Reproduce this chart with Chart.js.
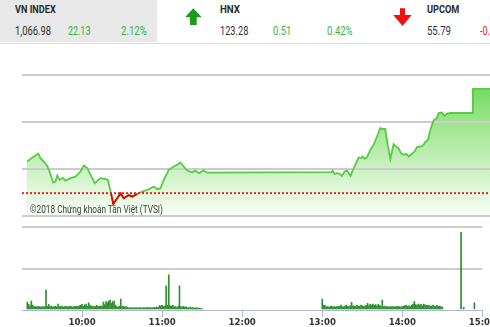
<!DOCTYPE html>
<html>
<head>
<meta charset="utf-8">
<script src="https://cdn.jsdelivr.net/npm/chart.js@4.4.0/dist/chart.umd.min.js"></script>
<style>
html, body { margin: 0; padding: 0; background: #fff; }
#wrap { position: relative; width: 490px; height: 327px; overflow: hidden; font-family: Roboto, "Liberation Sans", sans-serif; }
.t { position: absolute; white-space: nowrap; line-height: 1; transform-origin: 0 0; color: #333; }
.lbl { font-size: 10.5px; font-weight: bold; top: 5.3px; color: #2a2a2a; }
.num { font-size: 12.5px; top: 25.1px; }
.up { color: #36b347; }
.dn { color: #e8202a; }
#grayBox { position: absolute; left: 0; top: 0; width: 157px; height: 42px; background: #e8e8e8; }
#rule { position: absolute; left: 0; top: 42.5px; width: 490px; height: 1.5px; background: #dcdcdc; }
#areaSvg { position: absolute; left: 0; top: 45px; }
#priceChart { position: absolute; left: 0; top: 45px; }
#volChart { position: absolute; left: 0; top: 220px; }
#copy { font-size: 11px; top: 203.7px; left: 30px; color: #3c3c3c; }
</style>
</head>
<body>
<div id="wrap">
  <div id="grayBox"></div>
  <div id="rule"></div>
  <svg width="490" height="42" style="position:absolute;left:0;top:0">
    <polygon points="185,17.3 193.3,8.3 201.7,17.3 196.7,17.3 196.7,25 190,25 190,17.3" fill="#1b9a1b"/>
    <polygon points="400,8.3 405,8.3 405,15 411.7,15 402.5,26 393.3,15 400,15" fill="#ee1111"/>
  </svg>
  <div class="t lbl" style="left:15px" data-w="40.7">VN INDEX</div>
  <div class="t num" style="left:15px" data-w="36">1,066.98</div>
  <div class="t num up" style="left:68.3px" data-w="22.4">22.13</div>
  <div class="t num up" style="left:121px" data-w="25.7">2.12%</div>
  <div class="t lbl" style="left:220px" data-w="20">HNX</div>
  <div class="t num" style="left:220px" data-w="28.3">123.28</div>
  <div class="t num up" style="left:273.3px" data-w="18.3">0.51</div>
  <div class="t num up" style="left:326.7px" data-w="25.6">0.42%</div>
  <div class="t lbl" style="left:426.7px" data-w="32.3">UPCOM</div>
  <div class="t num" style="left:426.7px" data-w="24">55.79</div>
  <div class="t num dn" style="left:480px" data-w="10">-0.</div>
  <svg id="areaSvg" width="496" height="175">
    <defs>
      <linearGradient id="areaGrad" gradientUnits="userSpaceOnUse" x1="0" y1="6" x2="0" y2="171">
        <stop offset="0" stop-color="rgb(78,206,62)"/>
        <stop offset="0.5" stop-color="rgb(168,232,152)"/>
        <stop offset="1" stop-color="rgb(250,254,249)"/>
      </linearGradient>
    </defs>
    <polygon id="areaBase" fill="rgb(185,237,172)"/>
    <polygon id="areaTop" fill="url(#areaGrad)"/>
  </svg>
  <canvas id="priceChart" width="496" height="175"></canvas>
  <canvas id="volChart" width="496" height="107"></canvas>
  <div class="t" id="copy" data-w="133">©2018 Chứng khoán Tân Việt (TVSI)</div>
</div>
<script>
// previous close of VN-Index
var REF = 1044.85;

// index line, minutes since midnight
var lineMinutes = [558.8, 562.9, 564.4, 566.8, 568.5, 570.9, 573.4, 575.1, 577.7, 579.4,
  580.7, 582.5, 584.7, 586.7, 590.3, 593.9, 597.6, 600.0, 602.5, 604.9,
  608.0, 612.1, 615.8, 617.5, 619.9, 621.4, 624.3, 626.7, 629.1, 632.7,
  635.2, 638.8, 642.5, 647.3, 650.9, 653.4, 655.8, 658.2, 660.7, 661.8,
  665.5, 667.9, 670.3, 672.7, 675.2, 678.8, 681.2, 683.6, 687.3, 689.7,
  780.2, 781.1, 782.5, 784.3, 786.2, 787.9, 789.8, 791.6, 792.7, 794.2,
  795.6, 797.6, 800.0, 802.0, 802.9, 804.4, 806.1, 808.5, 810.9, 813.4,
  815.8, 817.5, 819.4, 821.4, 823.1, 824.3, 825.5, 827.2, 829.1, 830.8,
  832.7, 834.7, 836.4, 838.8, 840.7, 842.5, 844.9, 846.6, 848.5, 850.5,
  852.2, 854.6, 857.0, 858.2, 860.7, 862.4, 864.3, 866.7, 870.0, 882.6,
  883.2, 896.0];
var lineValues = [1051.55, 1052.49, 1052.77, 1053.26, 1052.28, 1051.55, 1050.64, 1049.43, 1047.09, 1047.30,
  1048.57, 1047.66, 1048.09, 1047.51, 1048.02, 1048.36, 1049.43, 1050.70, 1050.15, 1048.72,
  1046.96, 1048.02, 1047.81, 1047.66, 1044.70, 1042.55, 1043.77, 1044.80, 1043.77, 1044.47,
  1044.11, 1044.68, 1045.17, 1045.68, 1046.23, 1045.68, 1045.89, 1047.66, 1049.09, 1049.79,
  1050.49, 1050.85, 1051.34, 1050.49, 1049.64, 1049.30, 1049.64, 1049.09, 1049.64, 1049.21,
  1049.30, 1049.64, 1048.94, 1049.09, 1048.94, 1048.51, 1049.43, 1049.64, 1049.09, 1048.51,
  1049.64, 1050.85, 1052.40, 1052.28, 1052.62, 1052.13, 1052.49, 1054.04, 1055.11, 1056.87,
  1058.66, 1058.45, 1058.45, 1054.74, 1052.06, 1053.68, 1055.26, 1054.74, 1054.40, 1053.34,
  1052.98, 1053.19, 1052.62, 1053.19, 1053.68, 1054.62, 1054.74, 1054.89, 1055.68, 1056.17,
  1058.30, 1060.28, 1060.79, 1061.85, 1061.98, 1061.28, 1061.70, 1061.85, 1061.85, 1061.85,
  1066.98, 1066.98];

// volume per minute (thousand shares)
var volMorningStart = 559;
var volMorning = [190, 135, 95, 215, 120, 85, 80, 75, 90, 80,
  70, 85, 75, 80, 480, 90, 135, 80, 95, 70,
  85, 90, 75, 145, 80, 85, 95, 70, 80, 90,
  75, 85, 95, 80, 70, 90, 85, 95, 80, 100,
  110, 135, 95, 125, 140, 90, 170, 120, 95, 85,
  90, 80, 105, 95, 85, 100, 90, 190, 130, 200,
  170, 215, 240, 160, 205, 215, 120, 85, 70, 90,
  265, 80, 95, 70, 80, 65, 55, 60, 50, 55,
  45, 60, 55, 50, 60, 55, 45, 60, 55, 50,
  65, 55, 60, 50, 55, 65, 60, 70, 60, 105,
  95, 110, 85, 100, 580, 120, 845, 105, 95, 110,
  75, 80, 60, 95, 580, 80, 70, 90, 65, 75,
  60, 55, 70, 50, 60, 45, 55, 50, 45, 40,
  35, 30];
var volAfternoonStart = 780;
var volAfternoon = [265, 120, 110, 75, 85, 70, 80, 95, 75, 80,
  70, 85, 90, 80, 120, 85, 75, 95, 120, 90,
  80, 100, 185, 95, 100, 85, 110, 90, 95, 120,
  100, 85, 95, 110, 160, 105, 135, 120, 145, 110,
  130, 95, 135, 115, 90, 240, 85, 95, 75, 80,
  70, 85, 75, 80, 70, 85, 90, 75, 80, 70,
  85, 95, 105, 110, 90, 100, 85, 120, 140, 200,
  130, 110, 145, 120, 135, 100, 140, 125, 110, 105,
  115, 90, 100, 120, 95, 85, 110, 95, 90, 80,
  70];
var volAtcMinutes = [884, 886, 894];
var volAtc = [1870, 65, 175];

var hourTicks = [600, 660, 720, 780, 840, 900];
var priceGrid = [1040, 1050, 1060, 1070];
var volGrid = [0, 1000, 2000];

var X_MIN = 555, X_MAX = 900;

function fitTexts() {
    var els = document.querySelectorAll('[data-w]');
    for (var i = 0; i < els.length; i++) {
        var w = els[i].getBoundingClientRect().width;
        els[i].style.transform = 'scaleX(' + (parseFloat(els[i].dataset.w) / w) + ')';
    }
}

// green area under the index line, placed with the chart's own scales,
// sitting behind the (transparent) chart canvas
function drawArea(chart) {
    var sx = chart.scales.x, sy = chart.scales.y, area = chart.chartArea;
    var grad = document.getElementById('areaGrad');
    grad.setAttribute('y1', area.top);
    grad.setAttribute('y2', area.bottom);
    var pts = [];
    var x0 = sx.getPixelForValue(lineMinutes[0]);
    var xN = Math.min(sx.getPixelForValue(lineMinutes[lineMinutes.length - 1]), area.right);
    pts.push(x0 + ',' + area.bottom);
    for (var i = 0; i < lineMinutes.length; i++) {
        pts.push(sx.getPixelForValue(lineMinutes[i]) + ',' + sy.getPixelForValue(lineValues[i]));
    }
    pts.push(xN + ',' + area.bottom);
    var s = pts.join(' ');
    document.getElementById('areaBase').setAttribute('points', s);
    document.getElementById('areaTop').setAttribute('points', s);
}

function makeCharts() {
    var linePoints = [];
    var belowPoints = [];   // only the stretch under the previous close, drawn red
    for (var i = 0; i < lineMinutes.length; i++) {
        linePoints.push({x: lineMinutes[i], y: lineValues[i]});
        belowPoints.push({x: lineMinutes[i], y: lineValues[i] <= REF ? lineValues[i] : null});
    }

    var volPoints = [];
    for (var i = 0; i < volMorning.length; i++) volPoints.push({x: volMorningStart + i, y: volMorning[i]});
    for (var i = 0; i < volAfternoon.length; i++) volPoints.push({x: volAfternoonStart + i, y: volAfternoon[i]});
    for (var i = 0; i < volAtc.length; i++) volPoints.push({x: volAtcMinutes[i], y: volAtc[i]});

    var redLine = {
        data: belowPoints,
        borderColor: '#e60000',
        borderWidth: 1.8,
        pointRadius: 0,
        spanGaps: false,
        fill: false
    };

    var refLine = {
        data: [{x: X_MIN, y: REF}, {x: X_MAX, y: REF}],
        borderColor: '#e52222',
        borderWidth: 2,
        borderDash: [2, 2],
        pointRadius: 0,
        fill: false
    };

    var indexLine = {
        data: linePoints,
        borderColor: '#56cc44',
        borderWidth: 1.8,
        pointRadius: 0,
        tension: 0,
        fill: false
    };

    var priceChart = new Chart(document.getElementById('priceChart'), {
        type: 'line',
        data: {datasets: [redLine, refLine, indexLine]},
        options: {
            responsive: false,
            animation: false,
            layout: {padding: {left: 22, top: 6, bottom: 4, right: 0}},
            plugins: {legend: {display: false}, tooltip: {enabled: false}},
            scales: {
                x: {type: 'linear', min: X_MIN, max: X_MAX, display: false},
                y: {
                    min: 1040, max: 1075,
                    afterBuildTicks: function (s) { s.ticks = priceGrid.map(function (v) { return {value: v}; }); },
                    afterFit: function (s) { s.width = 0; },
                    ticks: {display: false},
                    border: {display: false},
                    grid: {color: '#cccccc', lineWidth: 2, drawTicks: false}
                }
            }
        }
    });
    drawArea(priceChart);

    new Chart(document.getElementById('volChart'), {
        type: 'bar',
        data: {datasets: [{
            data: volPoints,
            backgroundColor: '#2f8f2f',
            barThickness: 1,
            borderWidth: 0
        }]},
        options: {
            responsive: false,
            animation: false,
            layout: {padding: {left: 22, top: 7, bottom: 0, right: 0}},
            plugins: {legend: {display: false}, tooltip: {enabled: false}},
            scales: {
                x: {
                    type: 'linear', min: X_MIN, max: X_MAX,
                    offset: false,
                    afterBuildTicks: function (s) { s.ticks = hourTicks.map(function (v) { return {value: v}; }); },
                    afterFit: function (s) { s.height = 17; },
                    border: {color: '#aab9d0', width: 1},
                    grid: {offset: false, drawOnChartArea: false, drawTicks: true, tickLength: 7, color: '#aab9d0'},
                    ticks: {
                        padding: 0,
                        maxRotation: 0,
                        autoSkip: false,
                        color: '#333',
                        font: {family: "'Liberation Sans Narrow', 'DejaVu Sans Condensed', Roboto", size: 9.5, weight: 'bold'},
                        callback: function (v) {
                            var m = v % 60;
                            return Math.floor(v / 60) + ':' + (m < 10 ? '0' + m : m);
                        }
                    }
                },
                y: {
                    min: 0, max: 2000,
                    afterBuildTicks: function (s) { s.ticks = volGrid.map(function (v) { return {value: v}; }); },
                    afterFit: function (s) { s.width = 0; },
                    ticks: {display: false},
                    border: {display: false},
                    grid: {
                        drawTicks: false,
                        lineWidth: 2,
                        color: function (ctx) { return ctx.tick && ctx.tick.value === 0 ? 'rgba(0,0,0,0)' : '#cccccc'; }
                    }
                }
            }
        }
    });
}

function initEvents() {
    fitTexts();
    makeCharts();
}

document.addEventListener('DOMContentLoaded', initEvents);
</script>
</body>
</html>
